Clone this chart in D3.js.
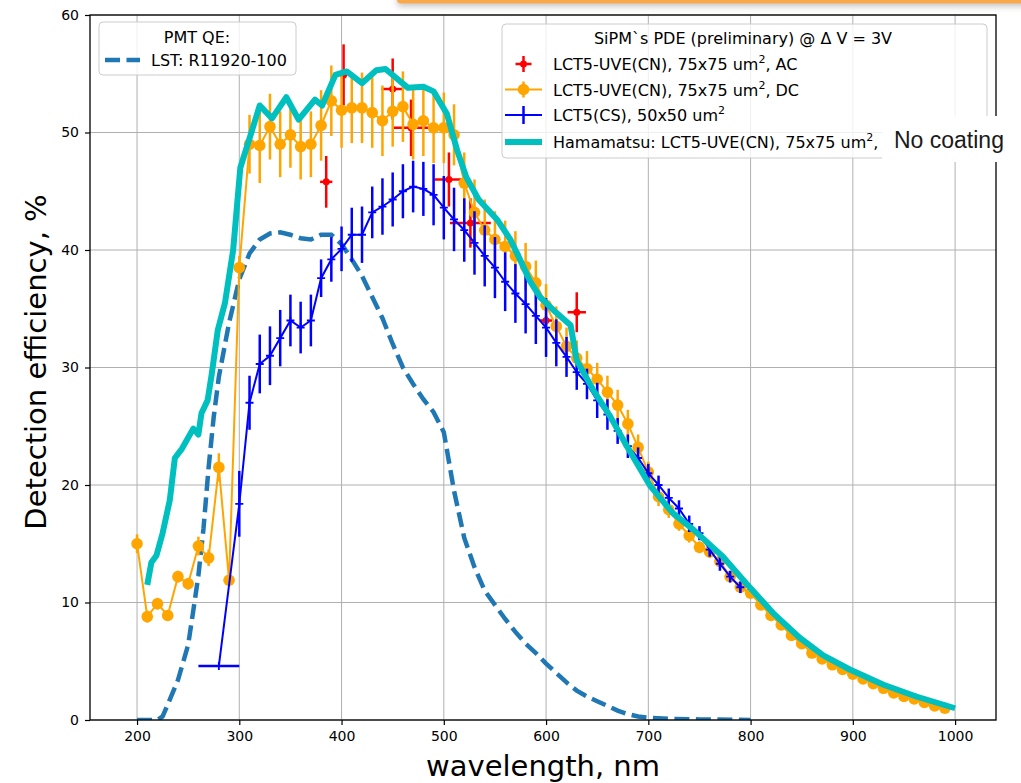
<!DOCTYPE html>
<html>
<head>
<meta charset="utf-8">
<script src="https://cdn.jsdelivr.net/npm/d3@7"></script>
<style>
  html, body { margin: 0; padding: 0; background: #ffffff; }
  svg { display: block; }
  text { font-family: "DejaVu Sans", sans-serif; fill: #000; }
</style>
</head>
<body>
<svg id="chart" width="1021" height="783"></svg>
<script>
// ---- tick labels ----
const wavelengthTicks = [200, 300, 400, 500, 600, 700, 800, 900, 1000];
const efficiencyTicks = [0, 10, 20, 30, 40, 50, 60];

// ---- PMT quantum efficiency (LST: R11920-100) ----
const pmtWavelength = [200, 210, 220, 225, 230, 240, 250, 255, 260, 265, 270, 275, 280, 290, 300, 310, 320, 330, 340, 350, 360, 370, 380, 390, 400, 410, 420, 430, 440, 450, 460, 470, 480, 490, 500, 505, 510, 520, 530, 540, 550, 560, 570, 580, 590, 600, 610, 620, 630, 640, 650, 660, 670, 680, 690, 700, 720, 750, 800];
const pmtQE = [0, 0, 0, 0.3, 1.3, 3.4, 6.4, 9.3, 12.3, 16.3, 21.5, 25.8, 29.2, 33.8, 37.5, 39.7, 40.9, 41.4, 41.5, 41.3, 41.0, 40.9, 41.3, 41.3, 40.5, 39.2, 37.8, 36.0, 34.2, 32.0, 30.0, 28.6, 27.3, 26.2, 24.5, 22.0, 19.5, 15.5, 13.0, 11.0, 9.8, 8.6, 7.5, 6.5, 5.7, 4.8, 4.0, 3.2, 2.5, 2.0, 1.6, 1.2, 0.8, 0.5, 0.3, 0.2, 0.1, 0.05, 0];

// ---- LCT5-UVE(CN), 75x75 um2, AC ----
const acWavelength = [385, 402, 450, 468, 505, 526, 600, 630];
const acPDE = [45.8, 54.9, 53.7, 50.4, 46.0, 42.3, 34.0, 34.7];
const acErrY = [2.2, 2.6, 2.6, 2.4, 2.3, 2.1, 0.4, 1.7];
const acErrX = [6, 3, 11, 17, 14, 20, 6, 9];

// ---- LCT5-UVE(CN), 75x75 um2, DC ----
const dcWavelength = [200, 210, 220, 230, 240, 250, 260, 270, 280, 290, 300, 310, 320, 330, 340, 350, 360, 370, 380, 390, 400, 410, 420, 430, 440, 450, 460, 470, 480, 490, 500, 510, 520, 530, 540, 550, 560, 570, 580, 590, 600, 610, 620, 630, 640, 650, 660, 670, 680, 690, 700, 710, 720, 730, 740, 750, 760, 770, 780, 790, 800, 810, 820, 830, 840, 850, 860, 870, 880, 890, 900, 910, 920, 930, 940, 950, 960, 970, 980, 990];
const dcPDE = [15.0, 8.8, 9.9, 8.9, 12.2, 11.6, 14.8, 13.8, 21.5, 11.9, 38.5, 49.0, 48.9, 50.5, 49.0, 49.8, 48.8, 49.0, 50.6, 52.7, 51.9, 52.1, 52.1, 51.7, 51.0, 51.8, 52.2, 50.7, 51.0, 50.4, 50.4, 49.8, 45.7, 43.2, 41.7, 40.9, 40.3, 39.5, 38.6, 37.2, 35.3, 33.5, 31.8, 30.8, 29.9, 29.0, 27.9, 26.8, 25.2, 23.2, 21.1, 19.0, 17.9, 16.7, 15.7, 14.7, 14.3, 13.5, 12.2, 11.3, 10.8, 9.8, 8.9, 8.1, 7.2, 6.5, 5.7, 5.2, 4.7, 4.3, 3.9, 3.5, 3.1, 2.7, 2.3, 2.0, 1.8, 1.5, 1.2, 1.0];
const dcErr = [0.8, 0.5, 0.5, 0.4, 0.5, 0.5, 0.8, 0.7, 1.2, 0.5, 1.0, 2.5, 3.2, 2.8, 2.8, 2.8, 2.8, 2.8, 3.0, 3.0, 3.2, 3.0, 3.0, 3.0, 3.0, 3.0, 3.0, 3.0, 3.0, 3.0, 3.0, 2.6, 2.6, 2.8, 2.6, 2.4, 2.2, 2.1, 2.0, 1.9, 1.8, 1.7, 1.6, 1.5, 1.5, 1.4, 1.4, 1.3, 1.2, 1.1, 0.9, 0.8, 0.7, 0.6, 0.6, 0.5, 0.5, 0.4, 0.4, 0.3, 0.3, 0.2, 0.2, 0.2, 0.2, 0.2, 0.2, 0.2, 0.2, 0.2, 0.2, 0.2, 0.2, 0.2, 0.2, 0.2, 0.2, 0.2, 0.2, 0.2];

// ---- LCT5(CS), 50x50 um2 ----
const csWavelength = [280, 300, 310, 320, 330, 340, 350, 360, 370, 380, 390, 400, 410, 420, 430, 440, 450, 460, 470, 480, 490, 500, 510, 520, 530, 540, 550, 560, 570, 580, 590, 600, 610, 620, 630, 640, 650, 660, 670, 680, 690, 700, 710, 720, 730, 740, 750, 760, 770, 780, 790];
const csPDE = [4.6, 18.4, 27.0, 30.3, 31.0, 32.5, 34.0, 33.4, 34.0, 37.6, 39.2, 40.1, 41.3, 41.3, 43.2, 43.7, 44.3, 45.0, 45.4, 45.2, 44.7, 43.6, 42.6, 41.7, 40.6, 39.5, 38.5, 37.3, 36.3, 35.4, 34.4, 33.4, 32.1, 30.9, 29.6, 28.6, 27.2, 26.0, 24.6, 23.3, 22.3, 21.0, 20.0, 18.9, 18.0, 16.7, 15.9, 14.5, 13.3, 12.2, 11.3];
const csErrY = [0, 2.8, 2.3, 2.5, 2.5, 2.4, 2.2, 2.2, 2.2, 1.6, 1.9, 1.9, 2.3, 2.4, 2.2, 2.4, 2.3, 2.3, 2.2, 2.3, 2.6, 2.7, 2.7, 2.7, 2.7, 2.6, 2.6, 2.5, 2.5, 2.5, 2.4, 2.5, 2.0, 1.7, 1.5, 1.3, 1.5, 1.3, 1.1, 1.0, 0.9, 0.8, 0.8, 0.8, 0.7, 0.7, 0.6, 0.6, 0.6, 0.5, 0.5];
const csErrX = [20, 0, 0, 0, 0, 0, 0, 0, 0, 0, 0, 0, 0, 0, 0, 0, 0, 0, 0, 0, 0, 0, 0, 0, 0, 0, 0, 0, 0, 0, 0, 0, 0, 0, 0, 0, 0, 0, 0, 0, 0, 0, 0, 0, 0, 0, 0, 0, 0, 0, 0];

// ---- Hamamatsu: LCT5-UVE(CN), 75x75 um2 ----
const hamaWavelength = [210, 214, 219, 225, 232, 237, 244, 255, 260, 263, 269, 273, 279, 286, 294, 301, 310, 320, 332, 346, 358, 374, 381, 394, 405, 420, 434, 443, 465, 480, 490, 503, 513, 522, 534, 552, 565, 575, 584, 594, 607, 624, 630, 646, 663, 679, 702, 724, 744, 773, 796, 822, 848, 871, 897, 930, 962, 1000];
const hamaPDE = [11.5, 13.4, 14.0, 15.9, 18.7, 22.3, 23.1, 24.8, 24.3, 26.1, 27.2, 29.4, 33.2, 35.5, 40.0, 47.0, 49.5, 52.3, 51.2, 53.0, 51.1, 52.8, 52.3, 54.9, 55.2, 54.2, 55.3, 55.4, 53.8, 53.9, 53.5, 51.6, 48.5, 46.2, 44.3, 42.6, 40.9, 39.1, 37.4, 36.0, 34.9, 33.6, 30.6, 28.1, 25.8, 23.3, 19.9, 17.6, 16.2, 13.9, 11.6, 9.1, 7.0, 5.5, 4.3, 3.0, 2.0, 1.0];

const colors = {
  pmt: "#1f77b4",
  ac: "#ff0000",
  dc: "#ffa500",
  cs: "#0000ff",
  hama: "#00bfbf"
};

const svg = d3.select("#chart");
const plot = { left: 90, right: 996, top: 15, bottom: 720 };

const x = d3.scaleLinear().domain([154, 1040]).range([plot.left, plot.right]);
const y = d3.scaleLinear().domain([0, 60]).range([plot.bottom, plot.top]);

// banner strip along the top of the page
const defs = svg.append("defs");
const shadow = defs.append("filter").attr("id", "bannerShadow")
  .attr("x", "-5%").attr("y", "-100%").attr("width", "110%").attr("height", "400%");
shadow.append("feDropShadow").attr("dx", 0).attr("dy", 3).attr("stdDeviation", 3)
  .attr("flood-color", "#808080").attr("flood-opacity", 0.45);
defs.append("clipPath").attr("id", "plotClip").append("rect")
  .attr("x", plot.left).attr("y", plot.top)
  .attr("width", plot.right - plot.left).attr("height", plot.bottom - plot.top);

svg.append("rect").attr("x", 397).attr("y", -10).attr("width", 640).attr("height", 13.5)
  .attr("rx", 4).attr("fill", "#f9a94a").attr("filter", "url(#bannerShadow)");

// grid
const grid = svg.append("g");
grid.selectAll("line.gx").data(wavelengthTicks).join("line")
  .attr("x1", d => x(d)).attr("x2", d => x(d))
  .attr("y1", plot.top).attr("y2", plot.bottom)
  .attr("stroke", "#b0b0b0").attr("stroke-width", 1);
grid.selectAll("line.gy").data(efficiencyTicks).join("line")
  .attr("y1", d => y(d)).attr("y2", d => y(d))
  .attr("x1", plot.left).attr("x2", plot.right)
  .attr("stroke", "#b0b0b0").attr("stroke-width", 1);

// axes
const xAxis = svg.append("g").attr("transform", `translate(0,${plot.bottom})`)
  .call(d3.axisBottom(x).tickValues(wavelengthTicks).tickFormat(d3.format("d")).tickSize(5).tickPadding(6));
const yAxis = svg.append("g").attr("transform", `translate(${plot.left},0)`)
  .call(d3.axisLeft(y).tickValues(efficiencyTicks).tickFormat(d3.format("d")).tickSize(5).tickPadding(6));
[xAxis, yAxis].forEach(a => {
  a.select(".domain").remove();
  a.selectAll(".tick line").attr("stroke", "#000").attr("stroke-width", 1.2);
  a.selectAll(".tick text").attr("font-size", 14).attr("fill", "#000");
});

const data = svg.append("g").attr("clip-path", "url(#plotClip)");

function rows(xs, ys, ey, ex) {
  return xs.map((w, i) => ({ w, v: ys[i], ey: ey ? ey[i] : 0, ex: ex ? ex[i] : 0 }));
}

function errorBars(g, pts, color, width) {
  g.selectAll(null).data(pts.filter(p => p.ey > 0)).join("line")
    .attr("x1", p => x(p.w)).attr("x2", p => x(p.w))
    .attr("y1", p => y(p.v - p.ey)).attr("y2", p => y(p.v + p.ey))
    .attr("stroke", color).attr("stroke-width", width);
  g.selectAll(null).data(pts.filter(p => p.ex > 0)).join("line")
    .attr("x1", p => x(p.w - p.ex)).attr("x2", p => x(p.w + p.ex))
    .attr("y1", p => y(p.v)).attr("y2", p => y(p.v))
    .attr("stroke", color).attr("stroke-width", width);
}

const line = d3.line().x(p => x(p.w)).y(p => y(p.v));

// PMT QE (dashed)
data.append("path").datum(rows(pmtWavelength, pmtQE))
  .attr("d", line).attr("fill", "none")
  .attr("stroke", colors.pmt).attr("stroke-width", 4.5)
  .attr("stroke-dasharray", "15,6.5");

// AC points
const acG = data.append("g");
const acPts = rows(acWavelength, acPDE, acErrY, acErrX);
errorBars(acG, acPts, colors.ac, 2.5);
acG.selectAll("circle").data(acPts).join("circle")
  .attr("cx", p => x(p.w)).attr("cy", p => y(p.v)).attr("r", 3.5).attr("fill", colors.ac);

// DC points
const dcG = data.append("g");
const dcPts = rows(dcWavelength, dcPDE, dcErr);
errorBars(dcG, dcPts, colors.dc, 2.5);
dcG.append("path").datum(dcPts).attr("d", line).attr("fill", "none")
  .attr("stroke", colors.dc).attr("stroke-width", 2);
dcG.selectAll("circle").data(dcPts).join("circle")
  .attr("cx", p => x(p.w)).attr("cy", p => y(p.v)).attr("r", 5.8).attr("fill", colors.dc);

// CS points
const csG = data.append("g");
const csPts = rows(csWavelength, csPDE, csErrY, csErrX);
errorBars(csG, csPts, colors.cs, 2.5);
csG.append("path").datum(csPts).attr("d", line).attr("fill", "none")
  .attr("stroke", colors.cs).attr("stroke-width", 2);
csG.selectAll("path.plus").data(csPts).join("path").attr("class", "plus")
  .attr("d", p => `M${x(p.w) - 4},${y(p.v)}H${x(p.w) + 4}M${x(p.w)},${y(p.v) - 4}V${y(p.v) + 4}`)
  .attr("stroke", colors.cs).attr("stroke-width", 1.8);

// Hamamatsu reference curve
data.append("path").datum(rows(hamaWavelength, hamaPDE))
  .attr("d", line).attr("fill", "none")
  .attr("stroke", colors.hama).attr("stroke-width", 6)
  .attr("stroke-linejoin", "round");

// frame
svg.append("rect").attr("x", plot.left).attr("y", plot.top)
  .attr("width", plot.right - plot.left).attr("height", plot.bottom - plot.top)
  .attr("fill", "none").attr("stroke", "#000").attr("stroke-width", 1.3);

// axis titles
svg.append("text").attr("x", (plot.left + plot.right) / 2).attr("y", 776)
  .attr("text-anchor", "middle").attr("font-size", 29).text("wavelength, nm");
svg.append("text").attr("transform", "translate(46,362) rotate(-90)")
  .attr("text-anchor", "middle").attr("font-size", 29).text("Detection efficiency, %");

// ---- legend: PMT ----
const leg1 = svg.append("g");
leg1.append("rect").attr("x", 99).attr("y", 22).attr("width", 197).attr("height", 53).attr("rx", 4)
  .attr("fill", "#ffffff").attr("fill-opacity", 0.8).attr("stroke", "#cccccc").attr("stroke-width", 1);
leg1.append("text").attr("x", 197).attr("y", 43).attr("text-anchor", "middle").attr("font-size", 16).text("PMT QE:");
leg1.append("line").attr("x1", 105).attr("x2", 140).attr("y1", 60).attr("y2", 60)
  .attr("stroke", colors.pmt).attr("stroke-width", 4.5).attr("stroke-dasharray", "15,6.5");
leg1.append("text").attr("x", 151).attr("y", 66).attr("font-size", 16).text("LST: R11920-100");

// ---- legend: SiPM ----
const leg2 = svg.append("g");
leg2.append("rect").attr("x", 502).attr("y", 24).attr("width", 485).attr("height", 134).attr("rx", 4)
  .attr("fill", "#ffffff").attr("fill-opacity", 0.8).attr("stroke", "#cccccc").attr("stroke-width", 1);
leg2.append("text").attr("x", 743).attr("y", 44).attr("text-anchor", "middle").attr("font-size", 16)
  .text("SiPM`s PDE (preliminary) @ Δ V = 3V");

const hx0 = 505, hx1 = 542, hxc = 523.5, tx = 553;
const legendRows = [
  { cy: 64, parts: ["LCT5-UVE(CN), 75x75 um", "2", ", AC"] },
  { cy: 89.5, parts: ["LCT5-UVE(CN), 75x75 um", "2", ", DC"] },
  { cy: 115, parts: ["LCT5(CS), 50x50 um", "2", ""] },
  { cy: 142, parts: ["Hamamatsu: LCT5-UVE(CN), 75x75 um", "2", ", "] }
];
legendRows.forEach(r => {
  const t = leg2.append("text").attr("x", tx).attr("y", r.cy + 6).attr("font-size", 16);
  t.append("tspan").text(r.parts[0]);
  t.append("tspan").attr("dy", -7).attr("font-size", 11).text(r.parts[1]);
  t.append("tspan").attr("dy", 7).text(r.parts[2]);
});
// AC handle
leg2.append("line").attr("x1", hxc - 8).attr("x2", hxc + 8).attr("y1", 64).attr("y2", 64).attr("stroke", colors.ac).attr("stroke-width", 2.5);
leg2.append("line").attr("x1", hxc).attr("x2", hxc).attr("y1", 56).attr("y2", 72).attr("stroke", colors.ac).attr("stroke-width", 2.5);
leg2.append("circle").attr("cx", hxc).attr("cy", 64).attr("r", 3.5).attr("fill", colors.ac);
// DC handle
leg2.append("line").attr("x1", hx0).attr("x2", hx1).attr("y1", 89.5).attr("y2", 89.5).attr("stroke", colors.dc).attr("stroke-width", 2);
leg2.append("line").attr("x1", hxc).attr("x2", hxc).attr("y1", 81.5).attr("y2", 97.5).attr("stroke", colors.dc).attr("stroke-width", 2.5);
leg2.append("circle").attr("cx", hxc).attr("cy", 89.5).attr("r", 5.8).attr("fill", colors.dc);
// CS handle
leg2.append("line").attr("x1", hx0).attr("x2", hx1).attr("y1", 115).attr("y2", 115).attr("stroke", colors.cs).attr("stroke-width", 2);
leg2.append("line").attr("x1", hxc).attr("x2", hxc).attr("y1", 106).attr("y2", 124).attr("stroke", colors.cs).attr("stroke-width", 2.5);
// Hamamatsu handle
leg2.append("line").attr("x1", hx0).attr("x2", hx1).attr("y1", 142).attr("y2", 142).attr("stroke", colors.hama).attr("stroke-width", 6);

// note box
svg.append("rect").attr("x", 882).attr("y", 116).attr("width", 139).attr("height", 46).attr("fill", "#ffffff");
svg.append("text").attr("x", 894).attr("y", 148)
  .style("font-family", "'Liberation Sans', Arial, sans-serif")
  .style("font-size", "23px").style("fill", "#1a1a1a").text("No coating");
</script>
</body>
</html>
